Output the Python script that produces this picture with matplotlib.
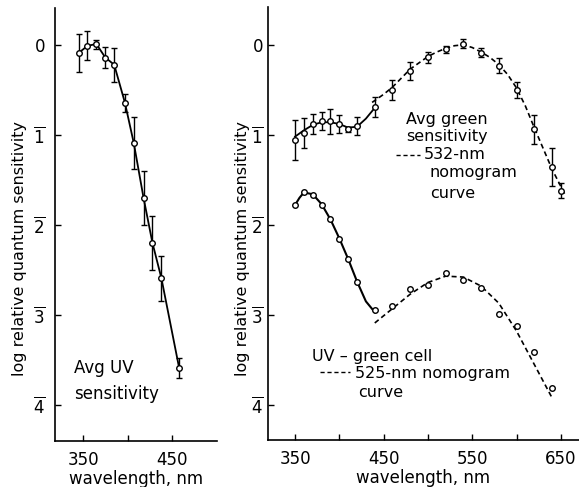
import matplotlib.pyplot as plt

# left panel: average UV sensitivity (points + error bars)
uv_wl = [345, 355, 365, 375, 385, 397, 407, 418, 428, 438, 458]
uv_val = [0.09, 0.01, -0.01, 0.14, 0.22, 0.64, 1.09, 1.70, 2.20, 2.59, 3.59]
uv_err = [0.21, 0.16, 0.05, 0.12, 0.19, 0.10, 0.29, 0.30, 0.30, 0.25, 0.11]

# right panel: average green sensitivity
gr_wl = [350, 360, 370, 380, 390, 400, 410, 420, 440, 460, 480, 500,
         520, 540, 560, 580, 600, 620, 640, 650]
gr_val = [1.06, 0.98, 0.88, 0.85, 0.85, 0.88, 0.94, 0.90, 0.69, 0.50, 0.29, 0.14,
          0.05, -0.01, 0.09, 0.23, 0.50, 0.94, 1.36, 1.62]
gr_err = [0.22, 0.17, 0.11, 0.10, 0.14, 0.10, 0.03, 0.10, 0.11, 0.11, 0.10, 0.06,
          0.04, 0.05, 0.05, 0.08, 0.09, 0.16, 0.21, 0.08]
# solid curve through short-wave green points
gr_solid_wl = [350, 360, 370, 380, 390, 400, 410, 420, 430, 440]
gr_solid_val = [1.02, 0.95, 0.89, 0.86, 0.86, 0.88, 0.92, 0.91, 0.82, 0.70]
# 532-nm nomogram curve (dashed)
gr_nomo_wl = [437, 450, 460, 470, 480, 490, 500, 510, 520, 530, 540, 550,
              560, 570, 580, 590, 600, 610, 620, 630, 640, 655]
gr_nomo_val = [0.64, 0.55, 0.47, 0.37, 0.27, 0.20, 0.13, 0.08, 0.04, 0.01, 0.00, 0.03,
               0.08, 0.14, 0.22, 0.33, 0.48, 0.68, 0.92, 1.15, 1.38, 1.67]

# UV-green cell
ug_wl = [350, 360, 370, 380, 390, 400, 410, 420, 440, 460, 480, 500,
         520, 540, 560, 580, 600, 620, 640]
ug_val = [1.78, 1.64, 1.67, 1.78, 1.94, 2.16, 2.38, 2.64, 2.95, 2.90, 2.71, 2.67,
          2.54, 2.61, 2.70, 2.99, 3.12, 3.41, 3.81]
ug_solid_wl = [350, 355, 360, 370, 380, 390, 400, 410, 420, 430, 440]
ug_solid_val = [1.78, 1.70, 1.64, 1.66, 1.77, 1.94, 2.15, 2.38, 2.63, 2.85, 2.97]
# 525-nm nomogram curve (dashed)
ug_nomo_wl = [440, 460, 480, 500, 520, 540, 560, 580, 600, 620, 640]
ug_nomo_val = [3.09, 2.93, 2.77, 2.64, 2.57, 2.58, 2.68, 2.87, 3.18, 3.55, 3.92]

ytick_vals = [0, 1, 2, 3, 4]
ytick_labels = ['0', r'$\overline{1}$', r'$\overline{2}$', r'$\overline{3}$', r'$\overline{4}$']

W, H = 579, 487
fig = plt.figure(figsize=(W / 100, H / 100), dpi=100)
ax1 = fig.add_axes([55 / W, 1 - 441 / H, 162 / W, 433 / H])
ax2 = fig.add_axes([268 / W, 1 - 440 / H, 311 / W, 433 / H])

mk = dict(marker='o', ms=4, mfc='white', mec='black', mew=1.0)
eb = dict(fmt='none', ecolor='black', elinewidth=1.0, capsize=2.5, capthick=1.0)
dash = (0, (3, 2))

# left
ax1.plot(uv_wl, uv_val, color='black', lw=1.3, zorder=2)
ax1.errorbar(uv_wl, uv_val, yerr=uv_err, **eb)
ax1.plot(uv_wl, uv_val, ls='none', zorder=3, **mk)
ax1.set_xlim(318.5, 500.5)
ax1.set_ylim(4.4, -0.41)
ax1.set_xticks([350, 400, 450])
ax1.set_xticklabels(['350', '', '450'])
ax1.text(340, 3.64, 'Avg UV', fontsize=12)
ax1.text(340, 3.93, 'sensitivity', fontsize=12)

# right
ax2.plot(gr_solid_wl, gr_solid_val, color='black', lw=1.3)
ax2.plot(gr_nomo_wl, gr_nomo_val, color='black', lw=1.2, ls=dash)
ax2.errorbar(gr_wl, gr_val, yerr=gr_err, **eb)
ax2.plot(gr_wl, gr_val, ls='none', zorder=3, **mk)
ax2.plot(ug_solid_wl, ug_solid_val, color='black', lw=1.5)
ax2.plot(ug_nomo_wl, ug_nomo_val, color='black', lw=1.2, ls=dash)
ax2.plot(ug_wl, ug_val, ls='none', zorder=3, **mk)
ax2.set_xlim(319.5, 670.5)
ax2.set_ylim(4.39, -0.42)
ax2.set_xticks([350, 400, 450, 500, 550, 600, 650])
ax2.set_xticklabels(['350', '', '450', '', '550', '', '650'])

ax2.text(475, 0.88, 'Avg green', fontsize=11.5)
ax2.text(476, 1.07, 'sensitivity', fontsize=11.5)
ax2.plot([464, 491], [1.22, 1.22], color='black', lw=1.0, ls=dash)
ax2.text(495, 1.27, '532-nm', fontsize=11.5)
ax2.text(502, 1.47, 'nomogram', fontsize=11.5)
ax2.text(502, 1.70, 'curve', fontsize=11.5)

ax2.text(369, 3.51, 'UV – green cell', fontsize=11.5)
ax2.plot([378, 412], [3.63, 3.63], color='black', lw=1.0, ls=dash)
ax2.text(418, 3.70, '525-nm nomogram', fontsize=11.5)
ax2.text(421, 3.91, 'curve', fontsize=11.5)

for ax in (ax1, ax2):
    ax.spines['top'].set_visible(False)
    ax.spines['right'].set_visible(False)
    ax.spines['left'].set_linewidth(1.2)
    ax.spines['bottom'].set_linewidth(1.2)
    ax.set_yticks(ytick_vals)
    ax.set_yticklabels(ytick_labels)
    ax.tick_params(direction='in', length=4, width=1.0, labelsize=12)
    ax.tick_params(axis='x', pad=7)
    ax.set_xlabel('wavelength, nm', fontsize=12, labelpad=1)
ax1.tick_params(axis='y', pad=7)
ax2.tick_params(axis='y', pad=3)

fig.text(20 / W, 1 - 248 / H, 'log relative quantum sensitivity', rotation=90,
         ha='center', va='center', fontsize=11.5)
fig.text(243 / W, 1 - 248 / H, 'log relative quantum sensitivity', rotation=90,
         ha='center', va='center', fontsize=11.5)

fig.savefig('out.png', dpi=100)
